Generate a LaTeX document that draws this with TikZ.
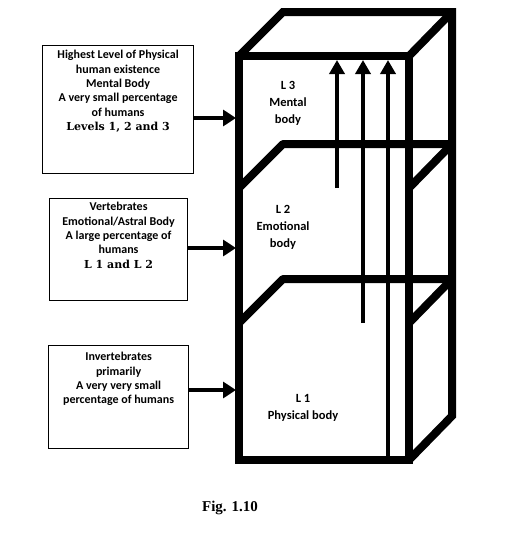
\documentclass[tikz,border=0pt]{standalone}
\usepackage{fontspec}
\setmainfont{Carlito}
\newfontfamily\lvlfont{DejaVu Serif}
\newfontfamily\figfont{Liberation Serif}
\usetikzlibrary{arrows.meta}
\usetikzlibrary{positioning}

\begin{document}
\begin{tikzpicture}[
    x=1pt, y=-1pt,
    box/.style={draw, line width=1.2pt, anchor=north west, inner sep=0pt},
    txt/.style={align=center, inner sep=0pt,
      font=\bfseries\fontsize{12}{14.4}\selectfont},
    lvl/.style={align=center, inner sep=0pt,
      font=\bfseries\fontsize{12.5}{17}\selectfont},
    edge/.style={line width=8pt, line join=miter},
    arr/.style={line width=3.5pt, -{Triangle[width=15pt,length=14pt]}},
    harr/.style={line width=4.5pt, -{Triangle[width=16pt,length=13pt]}}
  ]
  \useasboundingbox (0,0) rectangle (522,533);

  % cube
  \draw[edge] (239,56) rectangle (409,460);
  \draw[edge] (239,56) -- ++(44,-44) -- (452,12) -- (452,416) -- (409,460);
  \draw[edge, line join=bevel] (409,56) -- (452,12);
  \foreach \y in {188,323}{
    \draw[edge, line join=bevel] (239,\y) -- ++(44,-44) -- ++(169,0);
    \draw[edge] (409,\y) -- ++(43,-44);
  }

  % levels
  \node[lvl] (l3) at (288,103) {L 3\\Mental\\body};
  \node[lvl] (l2) at (283,227) {L 2\\Emotional\\body};
  \node[lvl] (l1) at (303,408) {L 1\\Physical body};

  % arrows through the levels
  \foreach \n/\x/\y in {a/337/188,b/363/323,c/388/460}{
    \coordinate (\n0) at (\x,\y);
    \coordinate (\n1) at (\x,60);
    \draw[arr] (\n0) -- (\n1);
  }

  % boxes
  \node[box, minimum width=151pt, minimum height=128pt] (b1) at (42,45) {};
  \node[txt, below=5pt of b1.north] (t1) {Highest Level of Physical\\human existence\\Mental Body\\A very small percentage\\of humans\\{\lvlfont\fontsize{11}{14.4}\selectfont Levels 1, 2 and 3}};
  \node[box, minimum width=138pt, minimum height=102pt] (b2) at (49,198) {};
  \node[txt, below=4pt of b2.north] (t2) {Vertebrates\\Emotional/Astral Body\\A large percentage of\\humans\\{\lvlfont\fontsize{11}{14.4}\selectfont L 1 and L 2}};
  \node[box, minimum width=140pt, minimum height=103pt] (b3) at (48,345) {};
  \node[txt, below=7pt of b3.north] (t3) {Invertebrates\\primarily\\A very very small\\percentage of humans};

  \coordinate (e1) at (236,118);
  \coordinate (e2) at (236,248);
  \coordinate (e3) at (236,390);
  \draw[harr] (b1.east |- e1) -- (e1);
  \draw[harr] (b2.east |- e2) -- (e2);
  \draw[harr] (b3.east |- e3) -- (e3);

  \node[font=\figfont\bfseries\fontsize{15}{18}\selectfont] (fig) at (230,508) {Fig. 1.10};
\end{tikzpicture}
\end{document}
